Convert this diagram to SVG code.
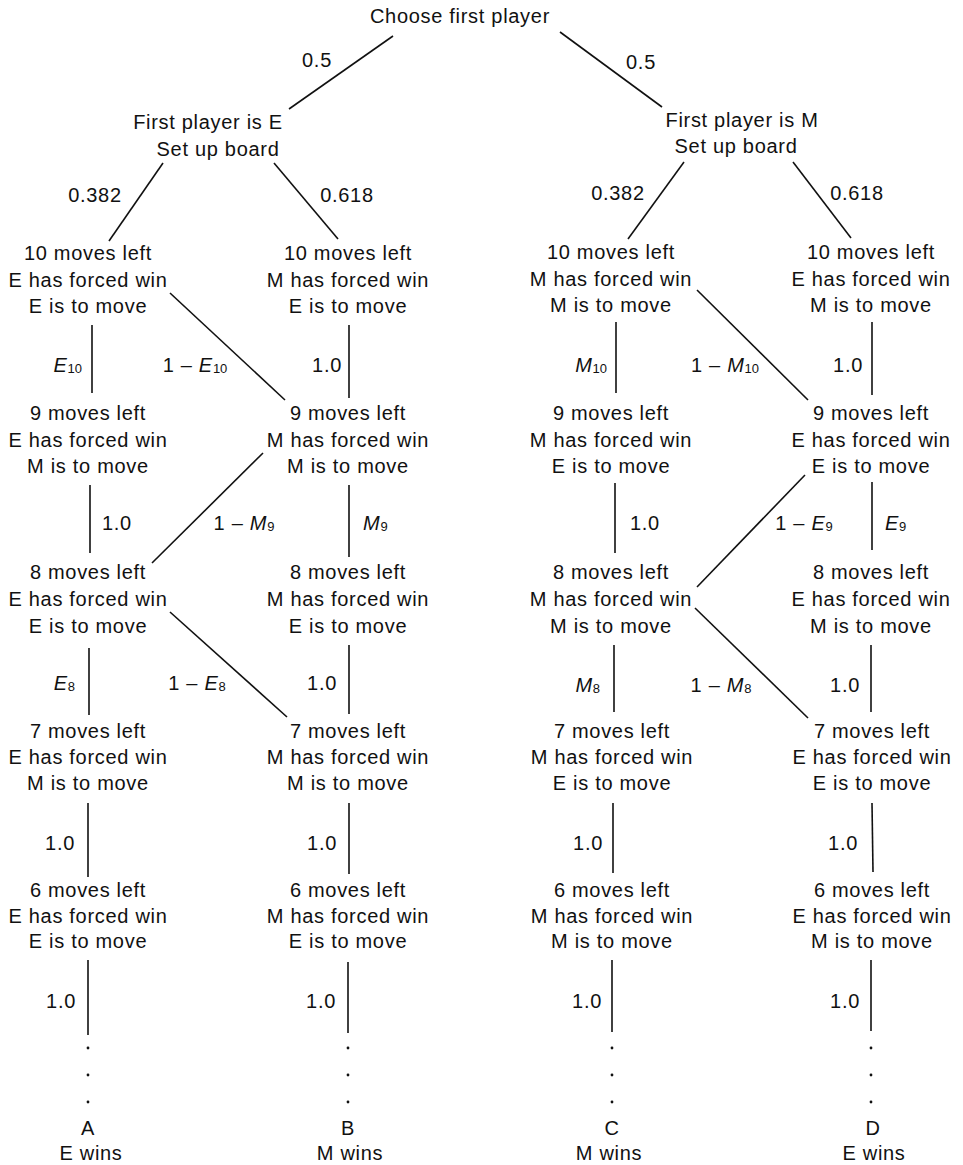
<svg xmlns="http://www.w3.org/2000/svg" width="963" height="1165" viewBox="0 0 963 1165">
<style>
text{font-family:"Liberation Sans",Arial,sans-serif;font-size:20px;letter-spacing:0.7px;fill:#111}
.n text{text-anchor:middle}
.e{text-anchor:end}
.m{text-anchor:middle}
.i{font-style:italic}
.sub{font-size:13px;letter-spacing:0}
#connectors line{stroke:#111;stroke-width:1.6;fill:none}
#connectors circle{fill:#111}
</style>
<rect width="963" height="1165" fill="#fff"/>
<g id="connectors">
<line x1="393" y1="36" x2="289" y2="109"/>
<line x1="560" y1="32" x2="662" y2="107"/>
<line x1="163" y1="163" x2="109" y2="241"/>
<line x1="274" y1="163" x2="338" y2="239"/>
<line x1="684" y1="162" x2="628" y2="239"/>
<line x1="793" y1="162" x2="851" y2="238"/>
<line x1="92" y1="325" x2="92" y2="393"/>
<line x1="349" y1="325" x2="349" y2="398"/>
<line x1="170" y1="293" x2="285" y2="400"/>
<line x1="616" y1="322" x2="616" y2="393"/>
<line x1="872" y1="322" x2="872" y2="395"/>
<line x1="697" y1="290" x2="808" y2="400"/>
<line x1="90" y1="485" x2="90" y2="553"/>
<line x1="349" y1="485" x2="349" y2="557"/>
<line x1="263" y1="453" x2="152" y2="563"/>
<line x1="615" y1="483" x2="615" y2="553"/>
<line x1="872" y1="482" x2="872" y2="550"/>
<line x1="805" y1="475" x2="697" y2="587"/>
<line x1="89" y1="648" x2="89" y2="715"/>
<line x1="349" y1="645" x2="349" y2="714"/>
<line x1="170" y1="612" x2="287" y2="717"/>
<line x1="614" y1="645" x2="614" y2="712"/>
<line x1="871" y1="645" x2="871" y2="712"/>
<line x1="695" y1="608" x2="808" y2="718"/>
<line x1="88" y1="803" x2="88" y2="877"/>
<line x1="349" y1="803" x2="349" y2="874"/>
<line x1="613" y1="803" x2="613" y2="873"/>
<line x1="872" y1="803" x2="873" y2="872"/>
<line x1="88" y1="960" x2="88" y2="1035"/>
<line x1="348" y1="962" x2="348" y2="1033"/>
<line x1="612" y1="960" x2="612" y2="1032"/>
<line x1="871" y1="960" x2="871" y2="1031"/>
<circle cx="88" cy="1048" r="1.4"/><circle cx="88" cy="1075" r="1.4"/><circle cx="88" cy="1102" r="1.4"/>
<circle cx="348" cy="1048" r="1.4"/><circle cx="348" cy="1075" r="1.4"/><circle cx="348" cy="1102" r="1.4"/>
<circle cx="612" cy="1048" r="1.4"/><circle cx="612" cy="1075" r="1.4"/><circle cx="612" cy="1102" r="1.4"/>
<circle cx="871" cy="1048" r="1.4"/><circle cx="871" cy="1075" r="1.4"/><circle cx="871" cy="1102" r="1.4"/>
</g>
<g id="edge-labels">
<text x="317" y="67" class="m">0.5</text>
<text x="641" y="69" class="m">0.5</text>
<text x="95" y="202" class="m">0.382</text>
<text x="347" y="202" class="m">0.618</text>
<text x="618" y="200" class="m">0.382</text>
<text x="857" y="200" class="m">0.618</text>
<text x="82" y="372" class="e"><tspan class="i">E</tspan><tspan class="sub" dy="1">10</tspan></text>
<text x="195" y="372" class="m">1 – <tspan class="i">E</tspan><tspan class="sub" dy="1">10</tspan></text>
<text x="342" y="372" class="e">1.0</text>
<text x="607" y="372" class="e"><tspan class="i">M</tspan><tspan class="sub" dy="1">10</tspan></text>
<text x="725" y="372" class="m">1 – <tspan class="i">M</tspan><tspan class="sub" dy="1">10</tspan></text>
<text x="863" y="372" class="e">1.0</text>
<text x="102" y="530">1.0</text>
<text x="244" y="530" class="m">1 – <tspan class="i">M</tspan><tspan class="sub" dy="1">9</tspan></text>
<text x="363" y="530"><tspan class="i">M</tspan><tspan class="sub" dy="1">9</tspan></text>
<text x="630" y="530">1.0</text>
<text x="804" y="530" class="m">1 – <tspan class="i">E</tspan><tspan class="sub" dy="1">9</tspan></text>
<text x="885" y="530"><tspan class="i">E</tspan><tspan class="sub" dy="1">9</tspan></text>
<text x="75" y="690" class="e"><tspan class="i">E</tspan><tspan class="sub" dy="1">8</tspan></text>
<text x="197" y="690" class="m">1 – <tspan class="i">E</tspan><tspan class="sub" dy="1">8</tspan></text>
<text x="337" y="690" class="e">1.0</text>
<text x="600" y="692" class="e"><tspan class="i">M</tspan><tspan class="sub" dy="1">8</tspan></text>
<text x="721" y="692" class="m">1 – <tspan class="i">M</tspan><tspan class="sub" dy="1">8</tspan></text>
<text x="860" y="692" class="e">1.0</text>
<text x="75" y="850" class="e">1.0</text>
<text x="337" y="850" class="e">1.0</text>
<text x="603" y="850" class="e">1.0</text>
<text x="858" y="850" class="e">1.0</text>
<text x="76" y="1008" class="e">1.0</text>
<text x="336" y="1008" class="e">1.0</text>
<text x="602" y="1008" class="e">1.0</text>
<text x="860" y="1008" class="e">1.0</text>
</g>
<g id="root" class="n"><text x="460" y="23">Choose first player</text></g>
<g id="firstE" class="n"><text x="208" y="129">First player is E</text><text x="218" y="156">Set up board</text></g>
<g id="firstM" class="n"><text x="742" y="127">First player is M</text><text x="736" y="153">Set up board</text></g>
<g id="A10" class="n"><text x="88" y="260">10 moves left</text><text x="88" y="287">E has forced win</text><text x="88" y="313">E is to move</text></g>
<g id="B10" class="n"><text x="348" y="260">10 moves left</text><text x="348" y="287">M has forced win</text><text x="348" y="313">E is to move</text></g>
<g id="C10" class="n"><text x="611" y="259">10 moves left</text><text x="611" y="286">M has forced win</text><text x="611" y="312">M is to move</text></g>
<g id="D10" class="n"><text x="871" y="259">10 moves left</text><text x="871" y="286">E has forced win</text><text x="871" y="312">M is to move</text></g>
<g id="A9" class="n"><text x="88" y="420">9 moves left</text><text x="88" y="447">E has forced win</text><text x="88" y="473">M is to move</text></g>
<g id="B9" class="n"><text x="348" y="420">9 moves left</text><text x="348" y="447">M has forced win</text><text x="348" y="473">M is to move</text></g>
<g id="C9" class="n"><text x="611" y="420">9 moves left</text><text x="611" y="447">M has forced win</text><text x="611" y="473">E is to move</text></g>
<g id="D9" class="n"><text x="871" y="420">9 moves left</text><text x="871" y="447">E has forced win</text><text x="871" y="473">E is to move</text></g>
<g id="A8" class="n"><text x="88" y="579">8 moves left</text><text x="88" y="606">E has forced win</text><text x="88" y="633">E is to move</text></g>
<g id="B8" class="n"><text x="348" y="579">8 moves left</text><text x="348" y="606">M has forced win</text><text x="348" y="633">E is to move</text></g>
<g id="C8" class="n"><text x="611" y="579">8 moves left</text><text x="611" y="606">M has forced win</text><text x="611" y="633">M is to move</text></g>
<g id="D8" class="n"><text x="871" y="579">8 moves left</text><text x="871" y="606">E has forced win</text><text x="871" y="633">M is to move</text></g>
<g id="A7" class="n"><text x="88" y="738">7 moves left</text><text x="88" y="764">E has forced win</text><text x="88" y="790">M is to move</text></g>
<g id="B7" class="n"><text x="348" y="738">7 moves left</text><text x="348" y="764">M has forced win</text><text x="348" y="790">M is to move</text></g>
<g id="C7" class="n"><text x="612" y="738">7 moves left</text><text x="612" y="764">M has forced win</text><text x="612" y="790">E is to move</text></g>
<g id="D7" class="n"><text x="872" y="738">7 moves left</text><text x="872" y="764">E has forced win</text><text x="872" y="790">E is to move</text></g>
<g id="A6" class="n"><text x="88" y="897">6 moves left</text><text x="88" y="923">E has forced win</text><text x="88" y="948">E is to move</text></g>
<g id="B6" class="n"><text x="348" y="897">6 moves left</text><text x="348" y="923">M has forced win</text><text x="348" y="948">E is to move</text></g>
<g id="C6" class="n"><text x="612" y="897">6 moves left</text><text x="612" y="923">M has forced win</text><text x="612" y="948">M is to move</text></g>
<g id="D6" class="n"><text x="872" y="897">6 moves left</text><text x="872" y="923">E has forced win</text><text x="872" y="948">M is to move</text></g>
<g id="endA" class="n"><text x="88" y="1135">A</text><text x="91" y="1160">E wins</text></g>
<g id="endB" class="n"><text x="348" y="1135">B</text><text x="350" y="1160">M wins</text></g>
<g id="endC" class="n"><text x="612" y="1135">C</text><text x="609" y="1160">M wins</text></g>
<g id="endD" class="n"><text x="873" y="1135">D</text><text x="874" y="1160">E wins</text></g>
</svg>
